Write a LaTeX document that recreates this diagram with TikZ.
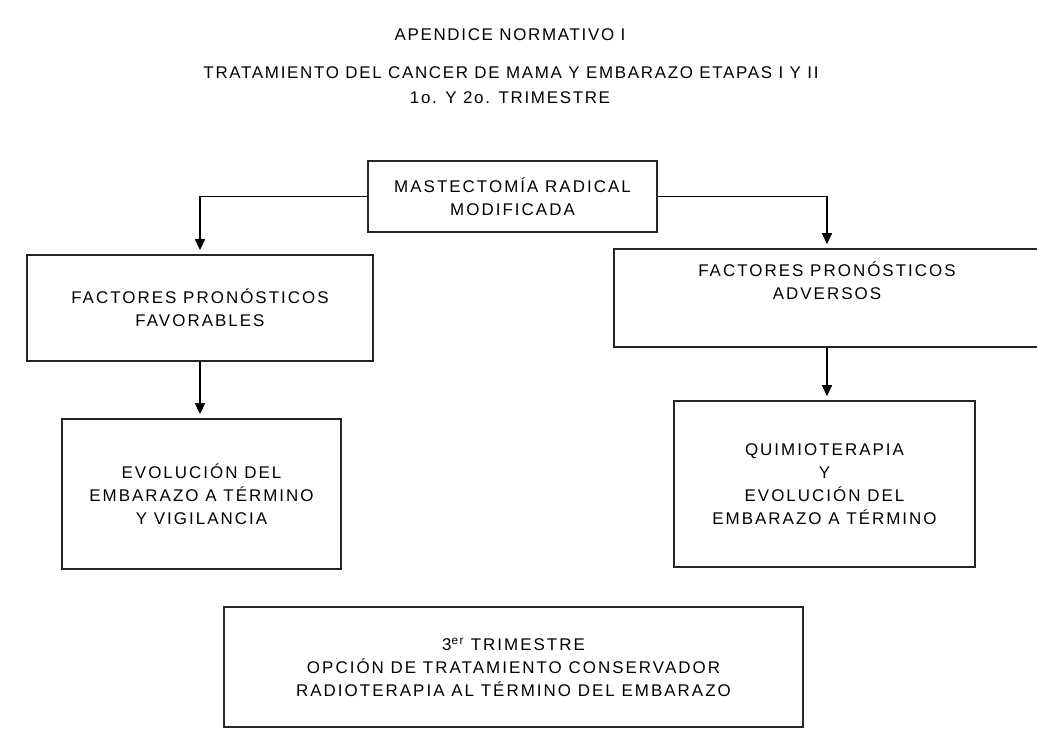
\documentclass[tikz,border=0pt]{standalone}
\usepackage{fontspec}
\setmainfont{Liberation Sans}
\newfontfamily\boxfont[LetterSpace=12]{Liberation Sans}
\newfontfamily\titlefont[LetterSpace=10]{Liberation Sans}
\usetikzlibrary{arrows.meta}
\begin{document}
\begin{tikzpicture}[x=1bp,y=-1bp,
  box/.style={draw=black!85, line width=1.8bp, rectangle, inner sep=0pt, align=center,
    font=\boxfont\fontsize{17}{23}\selectfont},
  txt/.style={inner sep=0pt, align=center, font=\boxfont\fontsize{17}{23}\selectfont},
  arr/.style={draw=black, line width=1.5bp, -{Triangle[width=10bp,length=11bp]}, shorten >=4bp},
  ttl/.style={inner sep=0pt, font=\titlefont\fontsize{17}{23}\selectfont}]
\clip (0,0) rectangle (1037,729);
\fill[white] (0,0) rectangle (1037,729);
% titles
\node[ttl] (t1) at (510,35) {APENDICE NORMATIVO I};
\node[ttl] (t2) at (511,73) {TRATAMIENTO DEL CANCER DE MAMA Y EMBARAZO ETAPAS I Y II};
\node[ttl] (t3) at (510,98) {1o. Y 2o. TRIMESTRE};
% boxes
\node[box, minimum width=289bp, minimum height=71bp] (top) at (512.5,196.5)
  {MASTECTOMÍA RADICAL\\MODIFICADA};
\node[box, minimum width=346bp, minimum height=106bp] (fav) at (200,308)
  {FACTORES PRONÓSTICOS\\FAVORABLES};
\node[box, minimum width=426bp, minimum height=98bp] (adv) at (827,298) {};
\node[txt] (advtxt) at (827,281) {FACTORES PRONÓSTICOS\\ADVERSOS};
\node[box, minimum width=279bp, minimum height=150bp] (evol) at (201.5,494)
  {EVOLUCIÓN DEL\\EMBARAZO A TÉRMINO\\Y VIGILANCIA};
\node[box, minimum width=301bp, minimum height=166bp] (quim) at (824.5,484)
  {QUIMIOTERAPIA\\Y\\EVOLUCIÓN DEL\\EMBARAZO A TÉRMINO};
\node[box, minimum width=579bp, minimum height=120bp] (ter) at (513.5,667)
  {3\textsuperscript{er} TRIMESTRE\\OPCIÓN DE TRATAMIENTO CONSERVADOR\\RADIOTERAPIA AL TÉRMINO DEL EMBARAZO};
% connectors
\draw[arr] (top.west) -| (fav.north);
\draw[arr] (top.east) -| (adv.north);
\draw[arr] (fav.south) -- (fav.south |- evol.north);
\draw[arr] (adv.south) -- (adv.south |- quim.north);
\end{tikzpicture}
\end{document}
